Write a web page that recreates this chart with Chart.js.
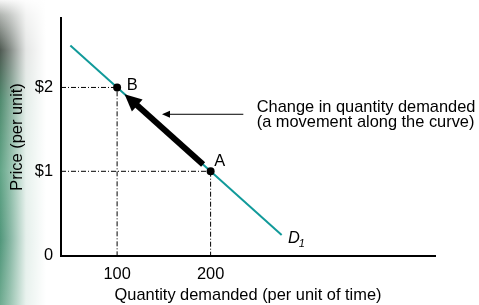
<!DOCTYPE html>
<html><head><meta charset="utf-8">
<script src="https://cdn.jsdelivr.net/npm/chart.js@4.4.1/dist/chart.umd.min.js"></script>
<style>
html,body{margin:0;padding:0;background:#fff;}
#wrap{position:relative;width:479px;height:305px;overflow:hidden;
 background:
  linear-gradient(to right, rgba(255,255,255,0) 0px, rgba(255,255,255,0.3) 10px, rgba(255,255,255,0.85) 26px, #fff 46px),
  linear-gradient(to bottom, #f6f6f6 0px, #b0b4b0 15px, #4f5a52 50px, #4f8a6e 100px, #62a587 170px, #50967a 240px, #6eab90 305px);
 background-size: 479px 305px, 60px 305px; background-repeat:no-repeat;}
canvas{position:absolute;left:0;top:0;}
</style></head>
<body>
<div id="wrap"><canvas id="c" width="479" height="305"></canvas></div>
<script>
// ---- data ----
const quantityTicks = [100, 200];
const priceTicks = [0, 1, 2];
const priceTickLabels = ['0', '$1', '$2'];
const demandQuantity = [50, 276];
const demandPrice = [2.5, 0.24];
const pointNames = ['A', 'B'];
const pointQuantity = [200, 100];
const pointPrice = [1, 2];
const moveFrom = [192, 1.08];
const moveTo = [108, 1.92];
const noteArrowFrom = [235, 1.68];
const noteArrowTo = [148, 1.68];
const noteAnchor = [249.3, 1.763, 1.583];
const noteLines = ['Change in quantity demanded', '(a movement along the curve)'];
const curveLabelAt = [289, 0.2];
const curveName = 'D';
const curveSub = '1';

const X_MIN = 40, X_MAX = 440, Y_MIN = -0.01, Y_MAX = 2.83;
const FONT = '"Liberation Sans", Arial, Helvetica, sans-serif';
const FS = 16.4;

const pointData = pointQuantity.map((q, i) => ({x: q, y: pointPrice[i]}));
const demandData = demandQuantity.map((q, i) => ({x: q, y: demandPrice[i]}));
const guideSets = pointQuantity.map((q, i) => ({
  data: [{x: X_MIN, y: pointPrice[i]}, {x: q, y: pointPrice[i]}, {x: q, y: 0}],
  showLine: true, borderColor: '#000', borderWidth: 1, borderDash: [5, 2, 1, 2],
  pointRadius: 0, fill: false
}));

const annot = {
  id: 'annot',
  afterDatasetsDraw(chart) {
    const xs = chart.scales.x, ys = chart.scales.y, c = chart.ctx;
    const P = (q, p) => [xs.getPixelForValue(q), ys.getPixelForValue(p)];
    function arrow(from, to, width, headLen, headHalf) {
      const a = P(from[0], from[1]), b = P(to[0], to[1]);
      const dx = b[0] - a[0], dy = b[1] - a[1], L = Math.hypot(dx, dy);
      const ux = dx / L, uy = dy / L, nx = -uy, ny = ux;
      const bx = b[0] - ux * headLen, by = b[1] - uy * headLen;
      c.save();
      c.strokeStyle = '#000'; c.fillStyle = '#000'; c.lineWidth = width; c.lineCap = 'butt';
      c.beginPath(); c.moveTo(a[0], a[1]); c.lineTo(bx + ux * 1, by + uy * 1); c.stroke();
      c.beginPath(); c.moveTo(b[0], b[1]);
      c.lineTo(bx + nx * headHalf, by + ny * headHalf);
      c.lineTo(bx - nx * headHalf, by - ny * headHalf);
      c.closePath(); c.fill();
      c.restore();
    }
    arrow(moveFrom, moveTo, 6, 17, 8);
    arrow(noteArrowFrom, noteArrowTo, 1, 8, 3.5);

    c.save();
    c.fillStyle = '#000';
    c.font = FS + 'px ' + FONT;
    c.textBaseline = 'middle';
    c.textAlign = 'left';
    const nx = xs.getPixelForValue(noteAnchor[0]);
    c.fillText(noteLines[0], nx, ys.getPixelForValue(noteAnchor[1]));
    c.fillText(noteLines[1], nx, ys.getPixelForValue(noteAnchor[2]));

    c.textAlign = 'center';
    const offs = [[9, -10], [15, -2]];
    pointNames.forEach((n, i) => {
      const p = P(pointQuantity[i], pointPrice[i]);
      c.fillText(n, p[0] + offs[i][0], p[1] + offs[i][1]);
    });

    const d = P(curveLabelAt[0], curveLabelAt[1]);
    c.font = 'italic ' + FS + 'px ' + FONT;
    c.fillText(curveName, d[0], d[1]);
    c.font = 'italic 11px ' + FONT;
    c.fillText(curveSub, d[0] + 8, d[1] + 6);
    c.restore();
  }
};

new Chart(document.getElementById('c').getContext('2d'), {
  type: 'scatter',
  data: {
    datasets: [
      {data: pointData, pointRadius: 4, pointBackgroundColor: '#000', pointBorderColor: '#000', pointBorderWidth: 0, showLine: false},
      {data: demandData, showLine: true, borderColor: '#119a9a', borderWidth: 2, pointRadius: 0, fill: false},
      ...guideSets
    ]
  },
  options: {
    responsive: false, animation: false, events: [],
    layout: {padding: {top: 12, right: 44, left: 0, bottom: 0}},
    plugins: {legend: {display: false}, tooltip: {enabled: false}},
    scales: {
      x: {
        type: 'linear', min: X_MIN, max: X_MAX,
        grid: {display: false, drawTicks: false},
        border: {display: true, color: '#000', width: 2},
        afterBuildTicks: s => { s.ticks = quantityTicks.map(v => ({value: v})); },
        ticks: {color: '#000', font: {family: FONT, size: FS}, padding: 9, maxRotation: 0, autoSkip: false},
        title: {display: true, text: 'Quantity demanded (per unit of time)', color: '#000',
                font: {family: FONT, size: FS}, padding: {top: 4, bottom: 0}},
        afterFit: s => { s.height = 49; }
      },
      y: {
        type: 'linear', min: Y_MIN, max: Y_MAX,
        grid: {display: false, drawTicks: false},
        border: {display: true, color: '#000', width: 2},
        afterBuildTicks: s => { s.ticks = priceTicks.map(v => ({value: v})); },
        ticks: {color: '#000', font: {family: FONT, size: FS}, padding: 8, autoSkip: false,
                callback: v => priceTickLabels[priceTicks.indexOf(v)]},
        title: {display: true, text: 'Price (per unit)', color: '#000',
                font: {family: FONT, size: FS}, padding: {top: 8, bottom: 0}},
        afterFit: s => { s.width = 61; }
      }
    }
  },
  plugins: [annot]
});
</script>
</body></html>
